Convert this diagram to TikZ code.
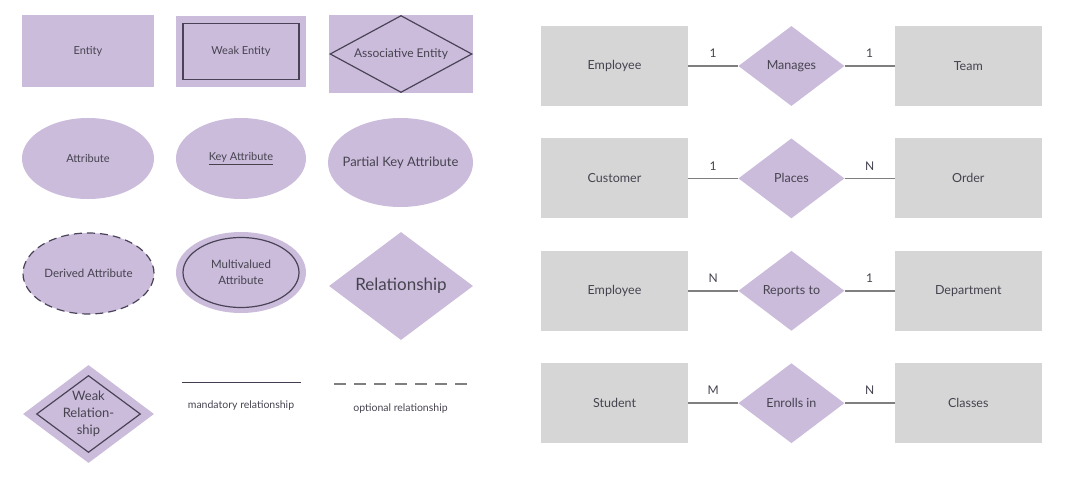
\documentclass[tikz,border=0pt]{standalone}
\usepackage{fontspec}
\setmainfont{Lato}
\usetikzlibrary{shapes.geometric}
\usetikzlibrary{positioning}

\definecolor{erpurple}{HTML}{CBBCDC}
\definecolor{ergrey}{HTML}{D6D6D6}
\definecolor{erline}{HTML}{7F7F7F}
\definecolor{ertext}{HTML}{46434F}
\definecolor{erdark}{HTML}{4A4358}

\tikzset{
  legend rect/.style={rectangle,fill=erpurple,inner sep=0pt,text=ertext,font={\fontsize{11}{13}\selectfont}},
  legend oval/.style={ellipse,fill=erpurple,inner sep=0pt,text=ertext,font={\fontsize{11.5}{14.5}\selectfont}},
  legend kite/.style={diamond,fill=erpurple,inner sep=0pt,text=ertext},
  entitybox/.style={rectangle,fill=ergrey,minimum width=147pt,minimum height=80pt,inner sep=0pt,text=ertext,font={\fontsize{12.5}{15}\selectfont}},
  relbox/.style={diamond,aspect=1.33,fill=erpurple,minimum width=106pt,minimum height=80pt,inner sep=0pt,text=ertext,font={\fontsize{12.5}{15}\selectfont}},
  link/.style={draw=erline,line width=1.5pt},
  card/.style={above=7.5pt,inner sep=0pt,text=ertext,font={\fontsize{12}{14}\selectfont}},
  note/.style={text=ertext,inner sep=0pt,font={\fontsize{10.5}{12}\selectfont}}
}

\begin{document}
\begin{tikzpicture}[x=1pt,y=-1pt]
\useasboundingbox (0,0) rectangle (1087,481);

% shapes legend, first row
\node[legend rect,minimum width=132pt,minimum height=72pt] (entity) at (88,51) {Entity};
\node[legend rect,minimum width=130pt,minimum height=71pt] (weakbox) at (241,51.5) {};
\node[legend rect,draw=erdark,line width=1.2pt,minimum width=116pt,minimum height=56pt] (weakentity) at (weakbox.center) {Weak Entity};
\node[legend rect,minimum width=144pt,minimum height=78pt] (assocbox) at (401,54) {};
\node[diamond,aspect=1.84,draw=erdark,line width=1.2pt,minimum width=142pt,minimum height=77pt,inner sep=0pt,text=ertext,font={\fontsize{12}{14}\selectfont}] (assoc) at (assocbox.center) {Associative Entity};

% second row
\node[legend oval,minimum width=132pt,minimum height=81pt,font={\fontsize{11}{13}\selectfont}] (attr) at (88,158.5) {Attribute};
\node[legend oval,minimum width=130pt,minimum height=81pt,font={\fontsize{11}{13}\selectfont}] (keyattr) at (241,158.5) {\underline{Key Attribute}};
\node[legend oval,inner sep=-8pt,minimum width=145pt,minimum height=89pt,font={\fontsize{13}{15}\selectfont}] (partial) at (400.5,162.5) {Partial Key Attribute};

% third row
\node[legend oval,draw=erdark,line width=1.2pt,dash pattern=on 8pt off 5pt,minimum width=131pt,minimum height=81pt] (derived) at (88.5,273.5) {Derived Attribute};
\node[legend oval,minimum width=130pt,minimum height=81pt] (multibox) at (241,272.5) {};
\node[legend oval,draw=erdark,line width=1.2pt,minimum width=116pt,minimum height=70pt,align=center] (multi) at (multibox.center) {Multivalued\\[1pt]Attribute};
\node[legend kite,aspect=1.33,minimum width=144pt,minimum height=108pt,font={\fontsize{17}{20}\selectfont}] (relship) at (401,286) {Relationship};

% fourth row
\node[legend kite,minimum width=131pt,minimum height=98pt] (weakrelbox) at (88.5,414) {};
\node[diamond,draw=erdark,line width=1.2pt,minimum width=104pt,minimum height=77pt,inner sep=0pt] (weakrel) at (weakrelbox.center) {};
\node[text=ertext,align=center,inner sep=0pt,font={\fontsize{13}{17}\selectfont}] (weakreltext) at (weakrel.center) {Weak\\Relation-\\ship};

\coordinate (mandA) at (182,382);
\coordinate (mandB) at (301,382);
\draw[draw=erdark!90!black,line width=1pt] (mandA) -- (mandB);
\node[note] (mand) at (241,406) {mandatory relationship};
\coordinate (optA) at (334,384);
\coordinate (optB) at (467,384);
\draw[erline,line width=1.5pt,dash pattern=on 12pt off 8.2pt] (optA) -- (optB);
\node[note] (opt) at (400.5,409) {optional relationship};

% examples
\node[entitybox] (emp1) at (614.5,66) {Employee};
\node[relbox,right=50pt of emp1] (manages) {Manages};
\node[entitybox,right=50pt of manages] (team) {Team};
\draw[link] (emp1) -- node[card]{1} (manages);
\draw[link] (manages) -- node[card]{1} (team);

\node[entitybox,below=32pt of emp1] (cust) {Customer};
\node[relbox,right=50pt of cust] (places) {Places};
\node[entitybox,right=50pt of places] (order) {Order};
\draw[link] (cust) -- node[card]{1} (places);
\draw[link] (places) -- node[card]{N} (order);

\node[entitybox,below=32pt of cust] (emp2) {Employee};
\node[relbox,right=50pt of emp2] (reports) {Reports to};
\node[entitybox,right=50pt of reports] (dept) {Department};
\draw[link] (emp2) -- node[card]{N} (reports);
\draw[link] (reports) -- node[card]{1} (dept);

\node[entitybox,below=32pt of emp2] (student) {Student};
\node[relbox,right=50pt of student] (enrolls) {Enrolls in};
\node[entitybox,right=50pt of enrolls] (classes) {Classes};
\draw[link] (student) -- node[card]{M} (enrolls);
\draw[link] (enrolls) -- node[card]{N} (classes);

\end{tikzpicture}
\end{document}
